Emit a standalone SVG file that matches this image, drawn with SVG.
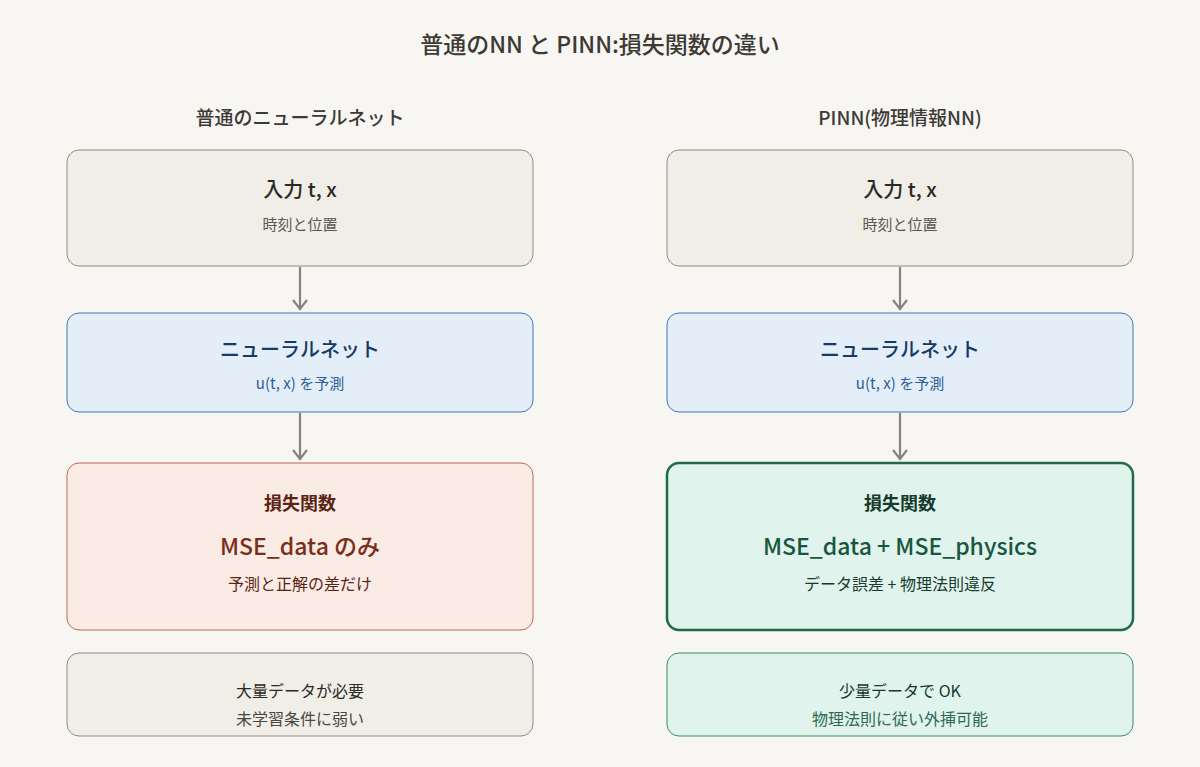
<svg xmlns="http://www.w3.org/2000/svg" width="1200" height="767" viewBox="0 0 1200 767">
<style>
text{font-family:"Noto Sans CJK JP","Noto Sans",sans-serif;text-anchor:middle}
.t{font-size:23px;fill:#3d3a35;font-weight:500}
.h{font-size:19px;fill:#3d3a35;font-weight:500}
.n1{font-size:20px;fill:#2b2925;font-weight:500}
.s1{font-size:15px;fill:#5a5752}
.nb{font-size:20px;fill:#163a63;font-weight:500}
.sb{font-size:15px;fill:#2a5e97}
.g{fill:#f1eee8;stroke:#8c8a85;stroke-width:1}
.b{fill:#e4eef9;stroke:#3d76b3;stroke-width:1}
.r{fill:#faebe5;stroke:#bb6a55;stroke-width:1}
.gr{fill:#e0f3ec;stroke:#1e6a4b;stroke-width:2.5}
.gl{fill:#e0f3ec;stroke:#3d8a6a;stroke-width:1}
.c{stroke:#858380;stroke-width:2.2;fill:none}
</style>
<rect width="1200" height="767" fill="#f8f6f2"/>
<text class="t" x="600" y="53">普通のNN と PINN:損失関数の違い</text>
<text class="h" x="300" y="125">普通のニューラルネット</text>
<text class="h" x="900" y="125">PINN(物理情報NN)</text>
<g id="connectors">
<path class="c" d="M300 267 V310 M293 300 L300 309 L307 300"/>
<path class="c" d="M300 413 V460 M293 450 L300 459 L307 450"/>
<path class="c" d="M900 267 V310 M893 300 L900 309 L907 300"/>
<path class="c" d="M900 413 V460 M893 450 L900 459 L907 450"/>
</g>
<g id="l-input"><rect class="g" x="67" y="150" width="466" height="116" rx="12"/><text class="n1" x="300" y="197">入力 t, x</text><text class="s1" x="300" y="230">時刻と位置</text></g>
<g id="l-nn"><rect class="b" x="67" y="313" width="466" height="99" rx="12"/><text class="nb" x="300" y="357">ニューラルネット</text><text class="sb" x="300" y="389">u(t, x) を予測</text></g>
<g id="l-loss"><rect class="r" x="67" y="463" width="466" height="167" rx="12"/><text x="300" y="510" style="font-size:18px;fill:#5a2415;font-weight:700">損失関数</text><text x="300" y="555" style="font-size:23px;fill:#7a2e18;font-weight:500">MSE_data のみ</text><text x="300" y="590" style="font-size:16px;fill:#5a2415">予測と正解の差だけ</text></g>
<g id="l-note"><rect class="g" x="67" y="653" width="466" height="83" rx="12"/><text x="300" y="697" style="font-size:16px;fill:#2b2925">大量データが必要</text><text x="300" y="725" style="font-size:16px;fill:#4a4743">未学習条件に弱い</text></g>
<g id="r-input"><rect class="g" x="667" y="150" width="466" height="116" rx="12"/><text class="n1" x="900" y="197">入力 t, x</text><text class="s1" x="900" y="230">時刻と位置</text></g>
<g id="r-nn"><rect class="b" x="667" y="313" width="466" height="99" rx="12"/><text class="nb" x="900" y="357">ニューラルネット</text><text class="sb" x="900" y="389">u(t, x) を予測</text></g>
<g id="r-loss"><rect class="gr" x="667" y="463" width="466" height="167" rx="12"/><text x="900" y="510" style="font-size:18px;fill:#163a2c;font-weight:700">損失関数</text><text x="900" y="555" style="font-size:23px;fill:#17573f;font-weight:500">MSE_data + MSE_physics</text><text x="900" y="590" style="font-size:16px;fill:#163a2c">データ誤差 + 物理法則違反</text></g>
<g id="r-note"><rect class="gl" x="667" y="653" width="466" height="83" rx="12"/><text x="900" y="697" style="font-size:16px;fill:#163a2c">少量データで OK</text><text x="900" y="725" style="font-size:16px;fill:#2e6a52">物理法則に従い外挿可能</text></g>
</svg>
